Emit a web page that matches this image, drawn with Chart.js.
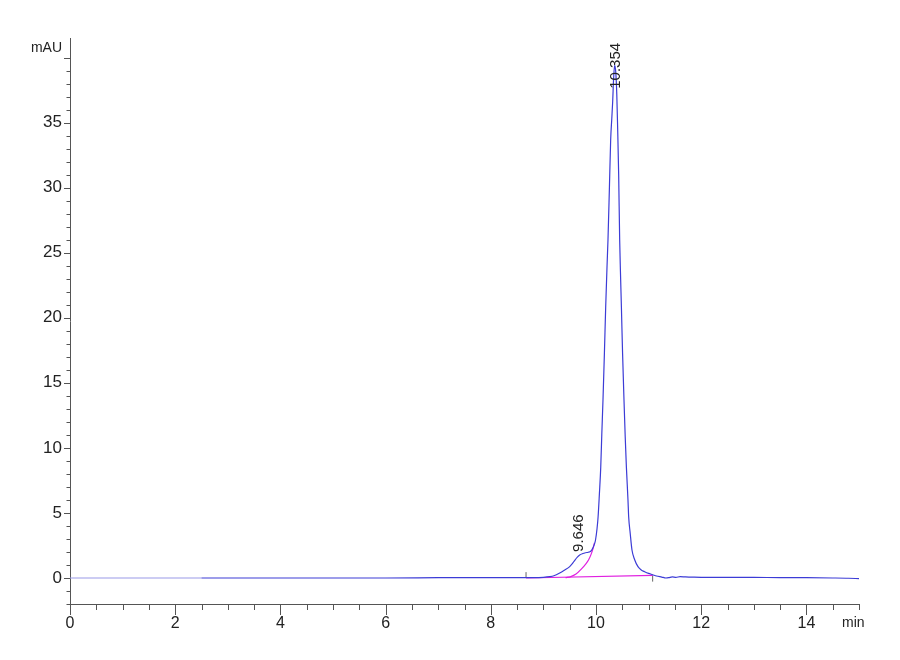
<!DOCTYPE html>
<html>
<head>
<meta charset="utf-8">
<script src="https://cdn.jsdelivr.net/npm/chart.js@4/dist/chart.umd.min.js"></script>
<style>
  html, body { margin: 0; padding: 0; background: #ffffff; }
  #wrap { width: 900px; height: 660px; position: relative; }
</style>
</head>
<body>
<div id="wrap"><canvas id="c"></canvas></div>
<script>
// ---- Data ----
const times = [0, 1, 2, 2.5, 3, 4, 5, 6, 7, 8, 8.5, 8.8, 9.0, 9.12, 9.2, 9.31, 9.4, 9.5, 9.55, 9.6, 9.65, 9.69, 9.75, 9.8, 9.85, 9.9, 9.94, 9.97, 9.99, 10.02, 10.04, 10.065, 10.09, 10.11, 10.133, 10.16, 10.184, 10.21, 10.228, 10.255, 10.279, 10.3, 10.317, 10.335, 10.354, 10.375, 10.395, 10.412, 10.431, 10.45, 10.465, 10.483, 10.505, 10.532, 10.555, 10.578, 10.608, 10.621, 10.65, 10.684, 10.735, 10.798, 10.86, 10.925, 11.0, 11.077, 11.15, 11.25, 11.33, 11.38, 11.45, 11.52, 11.6, 11.7, 11.8, 12, 12.5, 13, 13.5, 14, 14.5, 14.8, 15];
const signal = [0, 0, 0, 0, 0, 0, 0, 0, 0.02, 0.03, 0.03, 0.03, 0.05, 0.1, 0.17, 0.38, 0.6, 0.87, 1.1, 1.38, 1.62, 1.77, 1.88, 1.94, 1.98, 2.05, 2.3, 2.6, 2.9, 3.8, 4.7, 6.5, 8.5, 11, 13.7, 17.3, 20.8, 24, 26, 30, 33.7, 35.3, 36.6, 38.4, 39.4, 38.9, 37.2, 34.5, 31, 26, 23.5, 20.8, 17.3, 13.7, 10.9, 8.5, 6.0, 4.7, 3.45, 2.15, 1.4, 0.87, 0.62, 0.48, 0.35, 0.25, 0.15, 0.07, 0.0, 0.02, 0.08, 0.05, 0.1, 0.08, 0.07, 0.05, 0.05, 0.04, 0.03, 0.02, 0.0, -0.02, -0.05];

const baselineTimes = [8.67, 11.077];
const baselineValues = [0.0, 0.2];

const skimTimes = [9.42, 9.52, 9.62, 9.72, 9.8, 9.86, 9.91, 9.95, 9.97];
const skimValues = [0.02, 0.1, 0.3, 0.68, 1.05, 1.4, 1.85, 2.35, 2.7];

const eventTimes = [8.67, 11.077];
const eventLow = [0.0, -0.28];
const eventHigh = [0.45, 0.2];

const peakTimes = [9.646, 10.354];
const peakLabels = ['9.646', '10.354'];
const peakLabelValues = [2.0, 37.6];

const xMajorLabels = [0, 2, 4, 6, 8, 10, 12, 14];
const yMajorLabels = [0, 5, 10, 15, 20, 25, 30, 35];
const xUnit = 'min';
const yUnit = 'mAU';

// ---- Build datasets ----
const pts = (xs, ys) => xs.map((x, i) => ({ x: x, y: ys[i] }));
const FONT = "'Liberation Sans Narrow', 'Liberation Sans', Arial, sans-serif";

const datasets = [
  {
    label: 'signal',
    data: pts(times, signal),
    borderColor: '#3c3cd6',
    borderWidth: 1.2,
    pointRadius: 0,
    cubicInterpolationMode: 'monotone',
    segment: {
      borderColor: ctx => (ctx.p1.parsed.x <= 2.5 ? '#9a9ae8' : undefined)
    },
    order: 1
  },
  {
    label: 'baseline',
    data: pts(baselineTimes, baselineValues),
    borderColor: '#e020e0',
    borderWidth: 1.2,
    pointRadius: 0,
    order: 2
  },
  {
    label: 'skim',
    data: pts(skimTimes, skimValues),
    borderColor: '#e020e0',
    borderWidth: 1.2,
    pointRadius: 0,
    cubicInterpolationMode: 'monotone',
    order: 2
  }
];
eventTimes.forEach((t, i) => {
  datasets.push({
    label: 'event' + i,
    data: [{ x: t, y: eventLow[i] }, { x: t, y: eventHigh[i] }],
    borderColor: '#666666',
    borderWidth: 1,
    pointRadius: 0,
    order: 3
  });
});

const near = (v, arr) => arr.some(a => Math.abs(a - v) < 1e-6);

// Tick marks, peak labels and unit labels drawn through the chart's scales
const decorations = {
  id: 'decorations',
  afterDraw(chart) {
    const ctx = chart.ctx;
    const xs = chart.scales.x, ys = chart.scales.y;
    const area = chart.chartArea;
    ctx.save();
    ctx.strokeStyle = '#555555';
    ctx.lineWidth = 1;
    // x ticks
    xs.ticks.forEach(t => {
      const v = t.value;
      if (Math.abs(v * 2 - Math.round(v * 2)) > 1e-6) return;
      const major = Math.abs(v / 2 - Math.round(v / 2)) < 1e-6;
      const px = Math.round(xs.getPixelForValue(v)) + 0.5;
      ctx.beginPath();
      ctx.moveTo(px, area.bottom);
      ctx.lineTo(px, area.bottom + (major ? 11 : 6));
      ctx.stroke();
    });
    // y ticks
    ys.ticks.forEach(t => {
      const v = t.value;
      if (Math.abs(v - Math.round(v)) > 1e-6) return;
      const major = Math.abs(v / 5 - Math.round(v / 5)) < 1e-6;
      const py = Math.round(ys.getPixelForValue(v)) + 0.5;
      ctx.beginPath();
      ctx.moveTo(area.left, py);
      ctx.lineTo(area.left - (major ? 6 : 3.5), py);
      ctx.stroke();
    });
    // peak labels
    ctx.fillStyle = '#222222';
    ctx.font = '15px ' + FONT;
    ctx.textAlign = 'left';
    ctx.textBaseline = 'middle';
    peakTimes.forEach((t, i) => {
      const px = xs.getPixelForValue(t);
      const py = ys.getPixelForValue(peakLabelValues[i]);
      ctx.save();
      ctx.translate(px + 1, py);
      ctx.rotate(-Math.PI / 2);
      ctx.fillText(peakLabels[i], 0, 0);
      ctx.restore();
    });
    // unit labels
    ctx.font = '14px ' + FONT;
    ctx.textAlign = 'right';
    ctx.textBaseline = 'middle';
    ctx.fillText(yUnit, area.left - 8, area.top + 10);
    ctx.textAlign = 'left';
    ctx.fillText(xUnit, area.right - 17, area.bottom + 19);
    ctx.restore();
  }
};

new Chart(document.getElementById('c'), {
  type: 'line',
  data: { datasets: datasets },
  options: {
    responsive: true,
    maintainAspectRatio: false,
    animation: false,
    layout: { padding: { top: 38, right: 41, left: 0, bottom: 0 } },
    plugins: { legend: { display: false }, tooltip: { enabled: false }, title: { display: false } },
    scales: {
      x: {
        type: 'linear',
        min: 0,
        max: 15,
        afterFit: s => { s.height = 56; },
        grid: { display: false, drawTicks: false },
        border: { display: true, color: '#555555', width: 1 },
        ticks: {
          stepSize: 0.5,
          maxTicksLimit: 200,
          autoSkip: false,
          maxRotation: 0,
          padding: 10,
          color: '#222222',
          font: { family: FONT, size: 16 },
          callback: v => (near(v, xMajorLabels) ? String(v) : '')
        }
      },
      y: {
        type: 'linear',
        min: -2,
        max: 41.5,
        afterFit: s => { s.width = 70; },
        grid: { display: false, drawTicks: false },
        border: { display: true, color: '#555555', width: 1 },
        ticks: {
          stepSize: 1,
          maxTicksLimit: 200,
          autoSkip: false,
          padding: 8,
          color: '#222222',
          font: { family: FONT, size: 17 },
          callback: v => (near(v, yMajorLabels) ? String(v) : '')
        }
      }
    }
  },
  plugins: [decorations]
});
</script>
</body>
</html>
